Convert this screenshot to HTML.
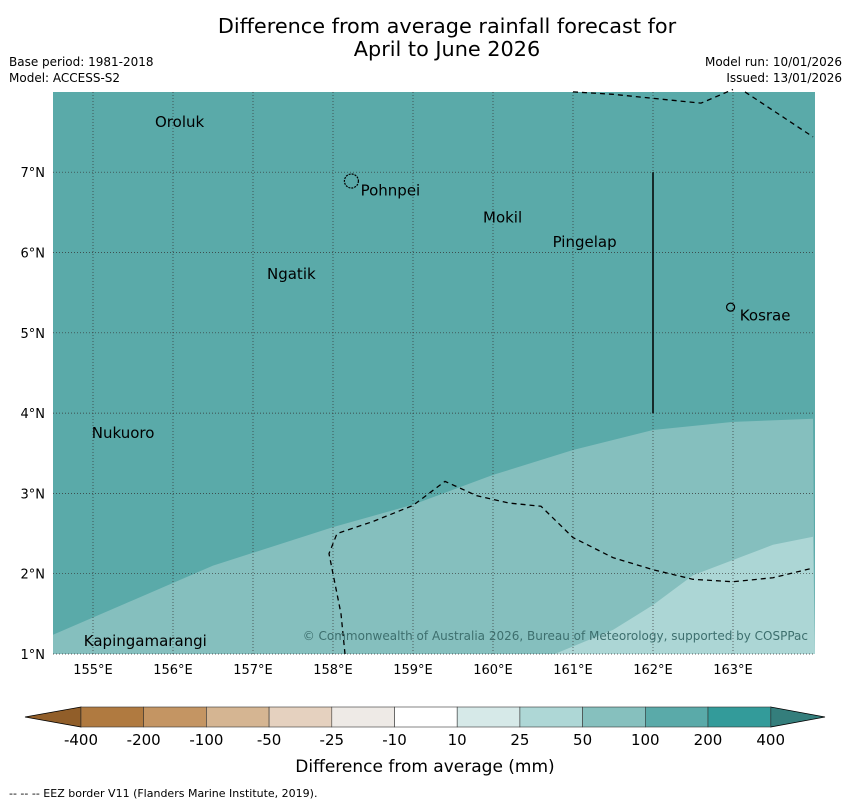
<!DOCTYPE html>
<html><head><meta charset="utf-8"><style>
body{margin:0;background:#fff;font-family:"DejaVu Sans","Liberation Sans",sans-serif}
svg text{font-family:"DejaVu Sans","Liberation Sans",sans-serif}
</style></head><body>
<svg width="850" height="804" viewBox="0 0 850 804" xmlns="http://www.w3.org/2000/svg">
<text x="447" y="33" font-size="20.8" text-anchor="middle">Difference from average rainfall forecast for</text>
<text x="447" y="56" font-size="20.8" text-anchor="middle">April to June 2026</text>
<text x="9" y="66" font-size="12">Base period: 1981-2018</text>
<text x="9" y="82" font-size="12">Model: ACCESS-S2</text>
<text x="842" y="66" font-size="12" text-anchor="end">Model run: 10/01/2026</text>
<text x="842" y="82" font-size="12" text-anchor="end">Issued: 13/01/2026</text>
<g id="map"></g>
<g id="cbar"></g>
<text x="425" y="772" font-size="17" text-anchor="middle">Difference from average (mm)</text>
<text x="9" y="797" font-size="11">--  --  -- EEZ border V11 (Flanders Marine Institute, 2019).</text>
</svg>
<script>
const lonTicks=[155,156,157,158,159,160,161,162,163];
const latTicks=[1,2,3,4,5,6,7];
const band1=[[154.5,1.24],[155.5,1.67],[156.5,2.1],[158,2.58],[159,2.86],[160,3.23],[161,3.54],[162,3.79],[163,3.89],[164,3.93]];
const band2=[[160.77,1.0],[161.5,1.3],[162,1.61],[162.5,1.98],[163,2.17],[163.5,2.36],[164,2.46]];
const eezTop1=[[161,8.0],[161.5,7.97],[162.6,7.86],[163,8.03]];
const eezTop2=[[163.15,8.0],[164,7.44]];
const eezBottom=[[158.15,1.0],[158.1,1.5],[157.95,2.25],[158.05,2.5],[158.5,2.65],[159,2.85],[159.4,3.15],[159.8,2.97],[160.2,2.88],[160.6,2.84],[161,2.45],[161.5,2.2],[162,2.05],[162.5,1.93],[163,1.9],[163.5,1.95],[164,2.07]];
const islands=[["Oroluk",155.75,7.71],["Pohnpei",158.32,6.86],["Mokil",159.85,6.52],["Pingelap",160.72,6.22],["Ngatik",157.15,5.82],["Kosrae",163.06,5.30],["Nukuoro",154.96,3.84],["Kapingamarangi",154.86,1.25]];
const cbLabels=["-400","-200","-100","-50","-25","-10","10","25","50","100","200","400"];
const cbColors=["#b07a40","#c49563","#d5b592","#e5d1bf","#eeeae6","#ffffff","#d6e9e8","#aed7d6","#86c0be","#5aaaa9","#339b9a"];
const NS="http://www.w3.org/2000/svg";
const X=l=>93+(l-155)*80, Y=a=>654-(a-1)*80.3;
function mk(t,a,p){const e=document.createElementNS(NS,t);for(const k in a)e.setAttribute(k,a[k]);p.appendChild(e);return e;}
const map=document.getElementById('map');
mk('rect',{x:53,y:92,width:762,height:562,fill:'#5aaaa9'},map);
let p1=band1.map(d=>X(d[0])+','+Y(d[1])).join(' ')+' 815,654 53,654';
const r1=mk('polygon',{points:p1,fill:'#85bfbe'},map);


let p2=band2.map(d=>X(d[0])+','+Y(d[1])).join(' ')+' 815,654';
const r2=mk('polygon',{points:p2,fill:'#acd6d5'},map);


lonTicks.forEach(l=>{const g=mk('line',{x1:X(l),x2:X(l),y1:92,y2:654,stroke:'#333','stroke-width':0.7,'stroke-dasharray':'1,2'},map);

const t=mk('text',{x:X(l),y:674,'font-size':13,'text-anchor':'middle'},map);t.textContent=l+'°E';
});
latTicks.forEach(a=>{const g=mk('line',{x1:53,x2:815,y1:Y(a),y2:Y(a),stroke:'#333','stroke-width':0.7,'stroke-dasharray':'1,2'},map);

const t=mk('text',{x:45,y:Y(a)+5,'font-size':13,'text-anchor':'end'},map);t.textContent=a+'°N';
});
[eezTop1,eezTop2,eezBottom].forEach(s=>{const e=mk('polyline',{points:s.map(d=>X(d[0])+','+Y(d[1])).join(' '),fill:'none',stroke:'#000','stroke-width':1.3,'stroke-dasharray':'5,4'},map);
});
const v=mk('line',{x1:X(162),x2:X(162),y1:Y(7),y2:Y(4),stroke:'#000','stroke-width':1.5},map);

mk('circle',{cx:X(158.23),cy:Y(6.89),r:7,fill:'none',stroke:'#000','stroke-width':1.2,'stroke-dasharray':'2,1'},map);
mk('circle',{cx:X(162.97),cy:Y(5.32),r:4,fill:'none',stroke:'#000','stroke-width':1.2},map);
islands.forEach(d=>{const t=mk('text',{x:X(d[1])+2,y:Y(d[2])+12,'font-size':15},map);t.textContent=d[0];
});
const c=mk('text',{x:808,y:640,'font-size':12,'text-anchor':'end',fill:'#3d6f6e'},map);
c.textContent='© Commonwealth of Australia 2026, Bureau of Meteorology, supported by COSPPac';

const cb=document.getElementById('cbar');
const x0=81,w=62.7,y0=707,h=20;
mk('polygon',{points:`${x0},${y0} 25,${y0+h/2} ${x0},${y0+h}`,fill:'#915e29',stroke:'#000','stroke-width':0.8},cb);
mk('polygon',{points:`${x0+11*w},${y0} 825,${y0+h/2} ${x0+11*w},${y0+h}`,fill:'#347e7c',stroke:'#000','stroke-width':0.8},cb);
cbColors.forEach((col,i)=>{const r=mk('rect',{x:x0+i*w,y:y0,width:w,height:h,fill:col,stroke:'#333','stroke-width':0.6},cb);
});
cbLabels.forEach((s,i)=>{const t=mk('text',{x:x0+i*w,y:745,'font-size':15,'text-anchor':'middle'},cb);t.textContent=s;
});
</script>
</body></html>
